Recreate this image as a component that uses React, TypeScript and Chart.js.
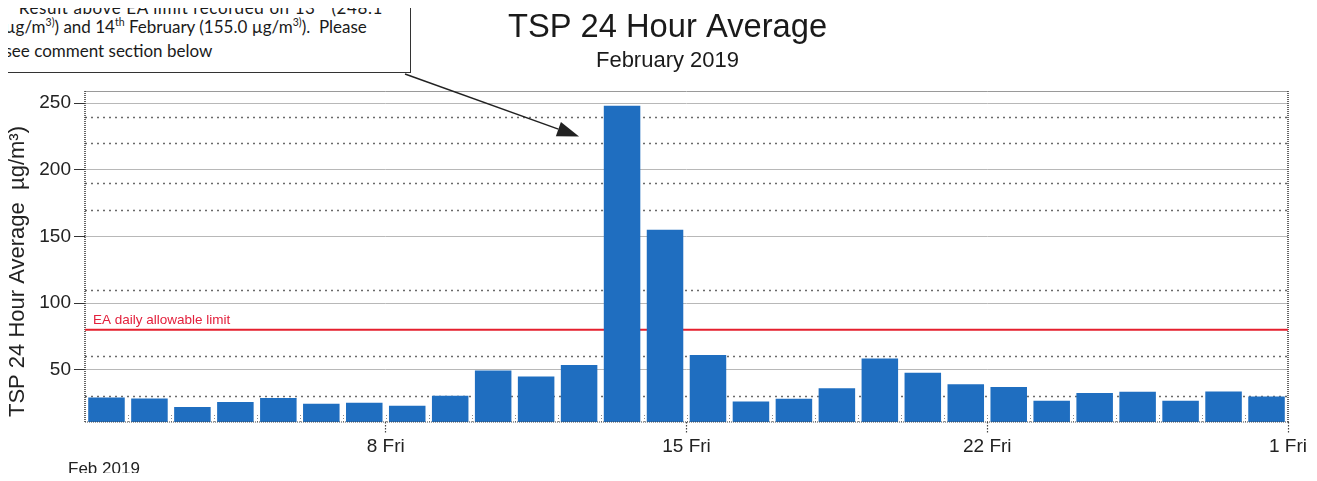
import React, { useEffect, useRef } from "react";
import { Chart, registerables } from "chart.js";

Chart.register(...registerables);

// ---------- data ----------
const dayLabels = [
  "1", "2", "3", "4", "5", "6", "7", "8", "9", "10", "11", "12", "13", "14",
  "15", "16", "17", "18", "19", "20", "21", "22", "23", "24", "25", "26", "27", "28",
];
const tspValues = [
  29.2, 28.5, 22.0, 25.8, 28.8, 24.5, 25.3, 23.0, 30.5, 49.5, 45.0, 53.5, 248.1, 155.0,
  61.0, 26.2, 28.2, 36.2, 58.5, 47.7, 39.2, 37.0, 26.7, 32.5, 33.5, 26.7, 33.7, 29.9,
];
const eaLimit = 80;
const xTickDays = [7, 14, 21, 28];
const xTickLabels = ["8 Fri", "15 Fri", "22 Fri", "1 Fri"];
const yTickValues = [50, 100, 150, 200, 250];
const dottedGridValues = [30, 60, 110, 170, 190, 220, 240];
const yMin = 10.8;
const yMax = 259.2;
const arrowTarget = { x: 11.5, y: 225 };

const titleText = "TSP 24 Hour Average";
const subtitleText = "February 2019";
const yTitleText = "TSP 24 Hour Average  µg/m³)";
const limitLabel = "EA daily allowable limit";
const xFootLabel = "Feb 2019";

const FONT = "'Liberation Sans', Arial, sans-serif";

const decorPlugin = {
  id: "decor",
  beforeDatasetsDraw(chart: any) {
    const { ctx, chartArea: a, scales } = chart;
    const x = scales.x;
    const y = scales.y;
    ctx.save();
    // dotted grid lines
    ctx.strokeStyle = "#6a6a6a";
    ctx.lineWidth = 1.3;
    ctx.setLineDash([2, 4]);
    for (const v of dottedGridValues) {
      const py = Math.round(y.getPixelForValue(v)) + 0.5;
      ctx.beginPath();
      ctx.moveTo(a.left, py);
      ctx.lineTo(a.right, py);
      ctx.stroke();
    }
    // small dotted marks at day boundaries near the bottom
    ctx.strokeStyle = "#8a8a8a";
    ctx.lineWidth = 1;
    ctx.setLineDash([1, 2]);
    for (let i = 1; i < dayLabels.length; i++) {
      const px = Math.round(x.getPixelForValue(i)) + 0.5;
      ctx.beginPath();
      ctx.moveTo(px, a.bottom);
      ctx.lineTo(px, a.bottom - 9);
      ctx.stroke();
    }
    // frame
    ctx.setLineDash([]);
    ctx.strokeStyle = "#9a9a9a";
    ctx.lineWidth = 1;
    ctx.beginPath();
    ctx.moveTo(a.left, a.top + 0.5);
    ctx.lineTo(a.right, a.top + 0.5);
    ctx.stroke();
    ctx.strokeStyle = "#333";
    ctx.lineWidth = 1.5;
    ctx.setLineDash([1, 1]);
    ctx.beginPath();
    ctx.moveTo(a.left, a.top);
    ctx.lineTo(a.left, a.bottom);
    ctx.moveTo(a.right, a.top);
    ctx.lineTo(a.right, a.bottom);
    ctx.stroke();
    ctx.restore();
  },
  afterDatasetsDraw(chart: any) {
    const { ctx, chartArea: a, scales } = chart;
    const x = scales.x;
    const y = scales.y;
    ctx.save();
    // bottom dotted axis line
    ctx.strokeStyle = "#444";
    ctx.lineWidth = 1.2;
    ctx.setLineDash([1, 1]);
    ctx.beginPath();
    ctx.moveTo(a.left, a.bottom);
    ctx.lineTo(a.right, a.bottom);
    ctx.stroke();
    ctx.setLineDash([]);
    // limit label
    ctx.fillStyle = "#e3203c";
    ctx.font = `13.5px ${FONT}`;
    ctx.textBaseline = "middle";
    ctx.textAlign = "left";
    ctx.fillText(limitLabel, a.left + 8, y.getPixelForValue(eaLimit) - 10);
    // arrow
    const sx = 397;
    const sy = 66;
    const tx = x.getPixelForValue(arrowTarget.x);
    const ty = y.getPixelForValue(arrowTarget.y);
    const ang = Math.atan2(ty - sy, tx - sx);
    const hl = 22;
    const hw = 7.5;
    const bx = tx - hl * Math.cos(ang);
    const by = ty - hl * Math.sin(ang);
    ctx.strokeStyle = "#222";
    ctx.fillStyle = "#222";
    ctx.lineWidth = 1.5;
    ctx.beginPath();
    ctx.moveTo(sx, sy);
    ctx.lineTo(bx, by);
    ctx.stroke();
    ctx.beginPath();
    ctx.moveTo(tx, ty);
    ctx.lineTo(bx + hw * Math.sin(ang), by - hw * Math.cos(ang));
    ctx.lineTo(bx - hw * Math.sin(ang), by + hw * Math.cos(ang));
    ctx.closePath();
    ctx.fill();
    ctx.restore();
  },
  afterDraw(chart: any) {
    const { ctx } = chart;
    ctx.save();
    ctx.fillStyle = "#1a1a1a";
    ctx.textAlign = "center";
    ctx.textBaseline = "alphabetic";
    ctx.font = `32.7px ${FONT}`;
    ctx.fillText(titleText, 659.5, 28.7);
    ctx.font = `22px ${FONT}`;
    ctx.fillText(subtitleText, 659.5, 58.5);
    ctx.textAlign = "left";
    ctx.font = `17px ${FONT}`;
    ctx.fillStyle = "#222";
    ctx.fillText(xFootLabel, 60, 466);
    // y-axis title
    ctx.translate(10, 263.5);
    ctx.rotate(-Math.PI / 2);
    ctx.textAlign = "center";
    ctx.textBaseline = "middle";
    ctx.font = `22px ${FONT}`;
    ctx.fillText(yTitleText, 0, 0);
    ctx.restore();
  },
};

export default function App() {
  const ref = useRef<HTMLCanvasElement | null>(null);

  useEffect(() => {
    if (!ref.current) return;
    const chart = new Chart(ref.current, {
      type: "bar",
      data: {
        datasets: [
          {
            type: "bar",
            label: "TSP",
            data: tspValues.map((v, i) => ({ x: i + 0.5, y: v })),
            backgroundColor: "#1f6ec0",
            borderWidth: 0,
            barPercentage: 0.85,
            categoryPercentage: 1,
            order: 0,
          } as any,
          {
            type: "line",
            label: "EA limit",
            data: [
              { x: 0, y: eaLimit },
              { x: dayLabels.length, y: eaLimit },
            ],
            borderColor: "#e5202e",
            borderWidth: 2,
            pointRadius: 0,
            order: 1,
          } as any,
        ],
      },
      options: {
        animation: false,
        responsive: true,
        maintainAspectRatio: false,
        layout: { padding: { top: 83, right: 21, left: 0, bottom: 8 } },
        plugins: {
          legend: { display: false },
          tooltip: { enabled: false },
          title: { display: false },
        },
        scales: {
          x: {
            type: "linear",
            offset: false,
            min: 0,
            max: dayLabels.length,
            afterBuildTicks: (s: any) => {
              s.ticks = xTickDays.map((v) => ({ value: v }));
            },
            afterFit: (s: any) => {
              s.height = 51;
            },
            grid: {
              offset: false,
              drawOnChartArea: false,
              drawTicks: true,
              tickLength: 12,
              tickColor: "#444",
              tickWidth: 1.2,
              tickBorderDash: [1.5, 1.5],
            },
            border: { display: false },
            ticks: {
              autoSkip: false,
              maxRotation: 0,
              padding: 1,
              color: "#222",
              font: { size: 19, family: FONT },
              callback: (_v: any, i: number) => xTickLabels[i],
            },
          },
          y: {
            min: yMin,
            max: yMax,
            afterBuildTicks: (s: any) => {
              s.ticks = yTickValues.map((v) => ({ value: v }));
            },
            afterFit: (s: any) => {
              s.width = 77;
            },
            grid: {
              color: "#b8b8b8",
              lineWidth: 1,
              tickColor: "#333",
              tickLength: 11,
            },
            border: { display: false },
            ticks: {
              padding: 3,
              color: "#222",
              font: { size: 19, family: FONT },
            },
            title: { display: false },
          },
        },
      },
      plugins: [decorPlugin],
    } as any);
    return () => chart.destroy();
  }, []);

  const sup: React.CSSProperties = { fontSize: "0.62em", verticalAlign: "super", lineHeight: 0 };
  const line = (top: number, left: number): React.CSSProperties => ({
    position: "absolute",
    top,
    left,
    height: 24,
    lineHeight: "24px",
    whiteSpace: "nowrap",
  });

  return (
    <div style={{ position: "relative", width: 1301, height: 473, marginBottom: -8 }}>
      <div style={{ position: "absolute", left: 0, top: 0, width: 1301, height: 473 }}>
        <canvas ref={ref} aria-label={yTitleText} />
      </div>
      <div
        style={{
          position: "absolute",
          left: -20,
          top: -30,
          width: 423,
          height: 95,
          boxSizing: "border-box",
          border: "1.5px solid #333",
          background: "#fff",
          fontFamily: "Lato, 'Noto Sans', sans-serif",
          fontSize: 17,
          color: "#1a1a1a",
        }}
      >
        <div style={{ ...line(16.5, 22), letterSpacing: 0.6 }}>
          *Result above EA limit recorded on 13<sup style={sup}>th</sup> (248.1
        </div>
        <div style={line(35.6, 15.5)}>
          µg/m<sup style={sup}>3)</sup>) and 14<sup style={sup}>th</sup> February (155.0 µg/m
          <sup style={sup}>3)</sup>).&nbsp; Please
        </div>
        <div style={line(59.6, 15.5)}>see comment section below</div>
      </div>
    </div>
  );
}
